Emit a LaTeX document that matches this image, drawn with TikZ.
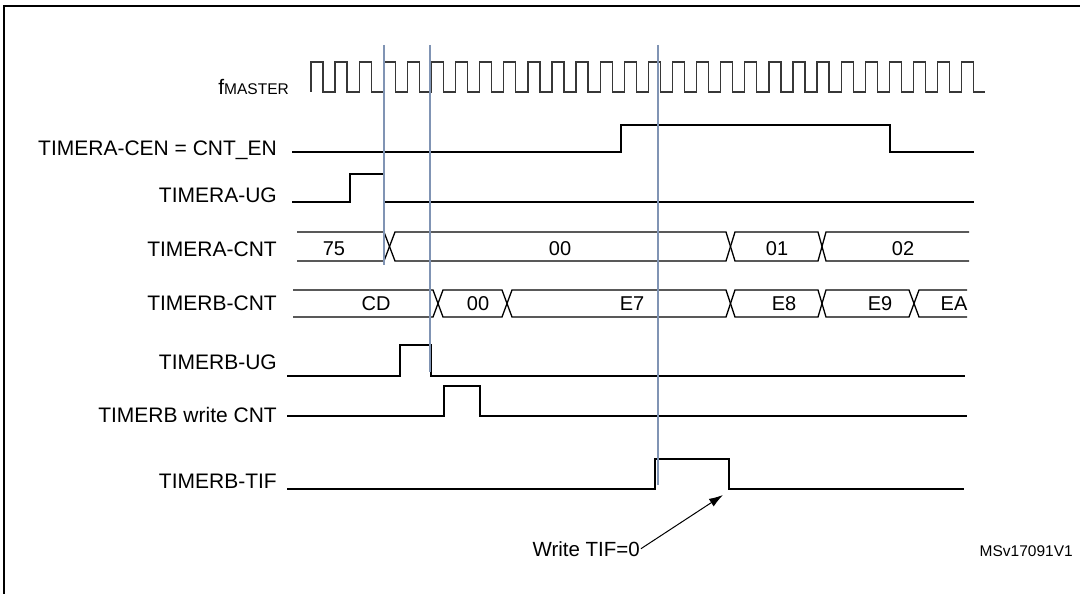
\documentclass[tikz,border=0pt]{standalone}
\usepackage{fontspec}
\setmainfont{Liberation Sans}
\usetikzlibrary{arrows.meta}
\definecolor{markerblue}{RGB}{128,148,180}
\definecolor{clkgray}{RGB}{55,55,55}
\begin{document}
\begin{tikzpicture}[x=1pt,y=-1pt,
  sig/.style={line width=1.3pt,black,line join=miter},
  clk/.style={line width=1.3pt,clkgray},
  marker/.style={line width=2.6pt,markerblue},
  lbl/.style={anchor=base east,inner sep=0pt,font=\fontsize{21}{25}\selectfont},
  buslbl/.style={inner sep=0pt,font=\fontsize{20}{24}\selectfont},
  pointer/.style={line width=1pt,-{Latex[length=14pt,width=9pt]}}]
\useasboundingbox (0,0) rectangle (1080,594);
% frame
\draw[line width=2.2pt] (4,594) -- (4,6) -- (1080,6);
% labels
\node[lbl] (lfm) at (289,95) {f\fontsize{15.5}{18}\selectfont MASTER};
\node[lbl] (lcen) at (277,155) {TIMERA-CEN = CNT\_EN};
\node[lbl] (laug) at (277,202) {TIMERA-UG};
\node[lbl] (lacnt) at (277,256) {TIMERA-CNT};
\node[lbl] (lbcnt) at (277,310) {TIMERB-CNT};
\node[lbl] (lbug) at (277,369) {TIMERB-UG};
\node[lbl] (lwr) at (277,422) {TIMERB write CNT};
\node[lbl] (ltif) at (277,488.5) {TIMERB-TIF};
% clock
\draw[clk] (311,92) foreach \k in {0,...,27} {
  -- ({311+24.1*\k},92) -- ({311+24.1*\k},62) -- ({323+24.1*\k},62) -- ({323+24.1*\k},92) } -- (985,92);
% TIMERA-CEN
\draw[sig] (292,152) -- (621,152) -- (621,125) -- (890,125) -- (890,152) -- (974,152);
% TIMERA-UG
\draw[sig] (292,202) -- (350,202) -- (350,174) -- (384,174) -- (384,202) -- (974,202);
% TIMERA-CNT bus
\draw[sig] (297,232) -- (384,232) -- (395,261) -- (726,261) -- (735,232) -- (818,232) -- (826,261) -- (969,261);
\draw[sig] (297,261) -- (384,261) -- (395,232) -- (726,232) -- (735,261) -- (818,261) -- (826,232) -- (969,232);
\node[buslbl] (a75) at (334,249) {75};
\node[buslbl] (a00) at (560,249) {00};
\node[buslbl] (a01) at (777,249) {01};
\node[buslbl] (a02) at (903,249) {02};
% TIMERB-CNT bus
\draw[sig] (293,290) -- (433,290) -- (443,317) -- (502,317) -- (512,290) -- (726,290) -- (735,317) -- (818,317) -- (826,290) -- (909,290) -- (919,317) -- (967,317);
\draw[sig] (293,317) -- (433,317) -- (443,290) -- (502,290) -- (512,317) -- (726,317) -- (735,290) -- (818,290) -- (826,317) -- (909,317) -- (919,290) -- (967,290);
\node[buslbl] (bcd) at (376,304) {CD};
\node[buslbl] (b00) at (478,304) {00};
\node[buslbl] (be7) at (632,304) {E7};
\node[buslbl] (be8) at (784,304) {E8};
\node[buslbl] (be9) at (880,304) {E9};
\node[buslbl] (bea) at (954,304) {EA};
% TIMERB-UG
\draw[sig] (287,376) -- (400,376) -- (400,345) -- (431,345) -- (431,376) -- (965,376);
% TIMERB write CNT
\draw[sig] (287,416) -- (444,416) -- (444,386) -- (480,386) -- (480,416) -- (967,416);
% TIMERB-TIF
\draw[sig] (287,489) -- (655,489) -- (655,459) -- (729,459) -- (729,489) -- (964,489);
% markers
\coordinate (m1t) at (384,45); \coordinate (m1b) at (384,265);
\coordinate (m2t) at (430,45); \coordinate (m2b) at (430,372);
\coordinate (m3t) at (658,45); \coordinate (m3b) at (658,485);
\draw[marker] (m1t) -- (m1b);
\draw[marker] (m2t) -- (m2b);
\draw[marker] (m3t) -- (m3b);
% annotation
\node[anchor=base east,inner sep=1pt,font=\fontsize{20.5}{24}\selectfont] (wtif) at (641,556) {Write TIF=0};
\coordinate (tip) at (723,495);
\draw[pointer] (wtif.east) -- (tip);
\node[anchor=base east,inner sep=0pt,font=\fontsize{15.5}{18}\selectfont] (msv) at (1073,556.5) {MSv17091V1};
\end{tikzpicture}
\end{document}
